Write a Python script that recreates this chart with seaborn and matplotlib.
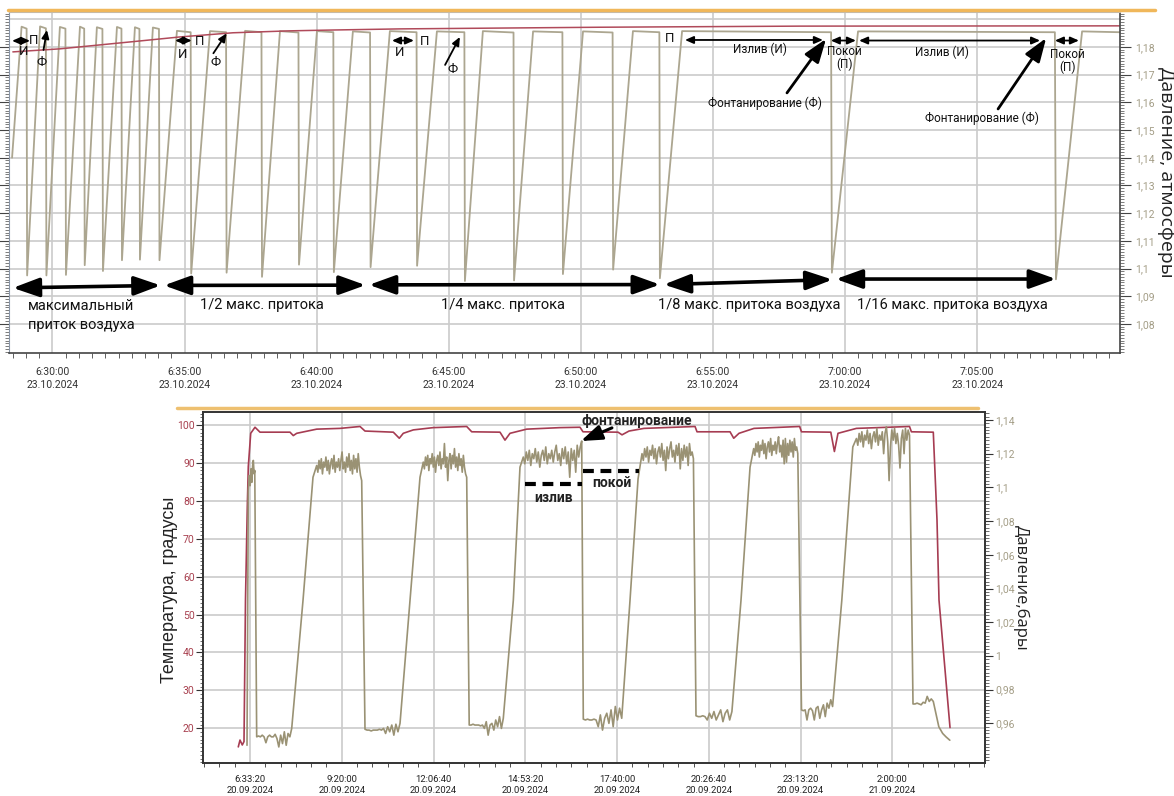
import numpy as np
import seaborn as sns
import matplotlib.pyplot as plt
from matplotlib.lines import Line2D
from matplotlib.ticker import MultipleLocator, FixedLocator

sns.set_style("white")
plt.rcParams['font.family'] = ['Roboto', 'DejaVu Sans']

# ---------------- верхний график: 23.10.2024, минуты от 6:00 ----------------
top_date = "23.10.2024"
top_tick_labels = ["6:30:00", "6:35:00", "6:40:00", "6:45:00",
                   "6:50:00", "6:55:00", "7:00:00", "7:05:00"]

start_t, start_p = 28.47, 1.140
# начало плато (конец подъёма) и конец плато (начало сброса)
plateau_a = [28.83, 29.53, 30.28, 31.04, 31.68, 32.44, 33.12, 33.80,
             34.71, 35.96, 37.29, 38.61, 40.01, 41.37,
             42.77, 44.55, 46.29, 48.19, 50.08, 51.97,
             53.83, 60.49, 68.97]
plateau_b = [29.02, 29.75, 30.49, 31.20, 31.89, 32.61, 33.29, 34.03,
             35.23, 36.57, 37.91, 39.31, 40.63, 42.02,
             43.78, 45.59, 47.45, 49.30, 51.20, 52.97,
             59.47, 67.94, 70.40]
plateau_pa = [1.1873, 1.1874, 1.1872, 1.1873, 1.1871, 1.1872, 1.1871, 1.1870,
              1.1858, 1.1857, 1.1858, 1.1857, 1.1857, 1.1856,
              1.1857, 1.1856, 1.1857, 1.1856, 1.1856, 1.1857,
              1.1857, 1.1856, 1.1856]
plateau_pb = [1.1866, 1.1867, 1.1866, 1.1866, 1.1865, 1.1866, 1.1865, 1.1865,
              1.1853, 1.1853, 1.1853, 1.1852, 1.1853, 1.1852,
              1.1853, 1.1853, 1.1852, 1.1853, 1.1852, 1.1853,
              1.1853, 1.1853, 1.1853]
min_t = [29.04, 29.77, 30.51, 31.22, 31.91, 32.63, 33.31, 34.05,
         35.25, 36.59, 37.93, 39.33, 40.65, 42.04,
         43.80, 45.61, 47.47, 49.32, 51.22, 52.99,
         59.50, 67.98]
min_p = [1.0975, 1.0975, 1.0977, 1.1012, 1.0991, 1.1030, 1.1032, 1.1030,
         1.0982, 1.0985, 1.0970, 1.1014, 1.0987, 1.1005,
         1.1010, 1.0955, 1.0957, 1.0980, 1.0996, 1.0965,
         1.0985, 1.0961]

red_top_t = [28.50, 30.28, 33.05, 34.83, 36.83, 38.99, 40.62, 43.15, 50.72, 58.29, 70.40]
red_top_p = [1.1782, 1.1793, 1.1819, 1.1836, 1.1851, 1.1858, 1.1861, 1.1865, 1.1871, 1.1875, 1.1876]

# ---------------- нижний график: часы от 20.09.2024 0:00 ----------------
bottom_tick_labels = ["6:33:20", "9:20:00", "12:06:40", "14:53:20",
                      "17:40:00", "20:26:40", "23:13:20", "2:00:00"]
bottom_tick_dates = ["20.09.2024", "20.09.2024", "20.09.2024", "20.09.2024",
                     "20.09.2024", "20.09.2024", "20.09.2024", "21.09.2024"]

# температура (красная линия)
temp_t = [6.201, 6.253, 6.322, 6.374, 6.419, 6.474, 6.504, 6.577, 6.707, 6.858,
          7.766, 7.866, 7.969, 8.574, 9.280, 9.885, 10.036, 10.893, 11.074, 11.195,
          11.498, 12.103, 13.114, 13.266, 14.122, 14.273, 14.425, 14.930, 15.938, 16.543,
          16.634, 17.693, 17.815, 18.027, 18.481, 20.025, 20.085, 21.084, 21.196, 21.356,
          21.810, 23.190, 23.247, 24.134, 24.243, 24.352, 24.909, 26.516, 26.573, 27.236,
          27.348, 27.409, 27.742]
temp_v = [15.1, 16.9, 15.6, 16.5, 53.9, 78.5, 89.0, 97.8, 99.4, 98.1,
          98.1, 97.2, 97.8, 98.9, 99.1, 99.6, 98.4, 98.1, 96.5, 97.8,
          98.7, 99.3, 99.6, 98.2, 98.1, 96.0, 97.8, 98.9, 99.3, 99.4,
          98.2, 98.1, 97.4, 98.4, 99.1, 99.6, 98.2, 98.2, 96.5, 97.8,
          99.1, 99.6, 98.2, 98.1, 93.0, 97.8, 99.1, 99.6, 98.2, 98.1,
          75.0, 53.8, 20.2]

# давление (оливковая линия): пуск
start_pt = [6.465, 6.504, 6.53, 6.56, 6.585, 6.61, 6.635, 6.656, 6.68, 6.70, 6.758]
start_pv = [0.947, 1.098, 1.107, 1.101, 1.111, 1.103, 1.113, 1.116, 1.108, 1.110, 0.952]

# плато покоя (низ) и излива (верх): границы по времени
low_span = [(6.758, 7.818), (10.036, 11.096), (13.19, 14.222), (16.643, 17.806),
            (20.054, 21.141), (23.247, 24.188), (26.622, 27.236)]
high_span = [(8.574, 9.936), (11.80, 13.114), (14.827, 16.595), (18.42, 19.976),
             (21.80, 23.135), (24.91, 26.516)]
# промежуточные точки подъёма
rise_t = [(8.160, 8.462), (11.398, 11.701), (14.525, 14.727), (18.057, 18.300),
          (21.416, 21.690), (24.467, 24.800)]
rise_v = [(1.033, 1.106), (1.033, 1.106), (1.033, 1.112), (1.033, 1.105),
          (1.033, 1.112), (1.033, 1.124)]

low1 = [0.952, 0.9525, 0.952, 0.953, 0.952, 0.9485, 0.952, 0.953, 0.952, 0.952,
        0.9535, 0.951, 0.946, 0.953, 0.948, 0.955, 0.947, 0.954, 0.952, 0.957]
low2 = [0.9565, 0.956, 0.956, 0.9555, 0.956, 0.956, 0.956, 0.9565, 0.956, 0.957,
        0.954, 0.958, 0.955, 0.959, 0.953, 0.9595, 0.955, 0.960]
low3 = [0.959, 0.959, 0.9595, 0.959, 0.959, 0.959, 0.9585, 0.959, 0.957, 0.961,
        0.953, 0.959, 0.960, 0.956, 0.962, 0.958, 0.964, 0.957, 0.963]
low4 = [0.9625, 0.962, 0.9625, 0.962, 0.962, 0.9625, 0.962, 0.958, 0.965, 0.956,
        0.963, 0.966, 0.960, 0.968, 0.958, 0.970, 0.962, 0.969, 0.963]
low5 = [0.9645, 0.964, 0.964, 0.9645, 0.964, 0.962, 0.966, 0.963, 0.967, 0.962,
        0.965, 0.968, 0.961, 0.966, 0.968, 0.962, 0.967]
low6 = [0.968, 0.9675, 0.968, 0.962, 0.968, 0.969, 0.9675, 0.962, 0.969, 0.970,
        0.963, 0.968, 0.971, 0.964, 0.972, 0.969, 0.974, 0.970]
low7 = [0.9715, 0.9715, 0.972, 0.9715, 0.971, 0.9725, 0.972, 0.976, 0.973, 0.9745, 0.973]

high1 = [1.113, 1.109, 1.116, 1.111, 1.117, 1.108, 1.115, 1.112, 1.118, 1.110,
         1.116, 1.108, 1.114, 1.117, 1.111, 1.119, 1.109, 1.115, 1.112, 1.117,
         1.110, 1.116, 1.121, 1.111, 1.115, 1.109, 1.118, 1.112, 1.120, 1.110,
         1.116, 1.108, 1.119, 1.111, 1.117, 1.109, 1.120, 1.112, 1.107, 1.104]
high2 = [1.115, 1.111, 1.118, 1.113, 1.119, 1.110, 1.117, 1.114, 1.120, 1.112,
         1.118, 1.109, 1.116, 1.119, 1.113, 1.121, 1.111, 1.117, 1.114, 1.126,
         1.112, 1.118, 1.104, 1.116, 1.120, 1.111, 1.119, 1.114, 1.123, 1.112,
         1.118, 1.110, 1.120, 1.113, 1.117, 1.109, 1.119, 1.112, 1.108, 1.106]
high3 = [1.118, 1.114, 1.121, 1.116, 1.122, 1.113, 1.120, 1.117, 1.123, 1.115,
         1.121, 1.112, 1.119, 1.122, 1.116, 1.124, 1.114, 1.120, 1.117, 1.122,
         1.115, 1.121, 1.125, 1.116, 1.120, 1.113, 1.123, 1.117, 1.124, 1.114,
         1.121, 1.106, 1.123, 1.116, 1.122, 1.109, 1.125, 1.118, 1.124, 1.1275]
high4 = [1.120, 1.116, 1.123, 1.118, 1.124, 1.115, 1.122, 1.119, 1.125, 1.117,
         1.123, 1.114, 1.121, 1.124, 1.118, 1.126, 1.116, 1.122, 1.110, 1.124,
         1.117, 1.123, 1.127, 1.118, 1.122, 1.115, 1.125, 1.119, 1.126, 1.111,
         1.123, 1.116, 1.125, 1.118, 1.124, 1.113, 1.126, 1.119, 1.121, 1.117]
high5 = [1.123, 1.119, 1.126, 1.121, 1.127, 1.118, 1.125, 1.122, 1.128, 1.120,
         1.126, 1.117, 1.124, 1.127, 1.121, 1.129, 1.119, 1.125, 1.122, 1.127,
         1.120, 1.126, 1.130, 1.121, 1.125, 1.118, 1.128, 1.114, 1.129, 1.115,
         1.126, 1.119, 1.128, 1.121, 1.127, 1.118, 1.129, 1.122, 1.124, 1.120]
high6 = [1.129, 1.125, 1.132, 1.127, 1.133, 1.124, 1.131, 1.128, 1.134, 1.126,
         1.132, 1.123, 1.130, 1.133, 1.127, 1.135, 1.125, 1.131, 1.128, 1.133,
         1.120, 1.132, 1.136, 1.127, 1.104, 1.124, 1.134, 1.128, 1.135, 1.126,
         1.132, 1.125, 1.1115, 1.129, 1.134, 1.120, 1.135, 1.128, 1.134, 1.131]
tail_t = [27.403, 27.52, 27.62, 27.736]
tail_v = [0.958, 0.954, 0.952, 0.950]

lows = [low1, low2, low3, low4, low5, low6, low7]
highs = [high1, high2, high3, high4, high5, high6]

# ---------------- сборка линий ----------------
top_t, top_p = [start_t], [start_p]
for i in range(len(plateau_a)):
    top_t += [plateau_a[i], plateau_b[i]]
    top_p += [plateau_pa[i], plateau_pb[i]]
    if i < len(min_t):
        top_t.append(min_t[i])
        top_p.append(min_p[i])

bot_t, bot_p = list(start_pt), list(start_pv)
for i, low in enumerate(lows):
    bot_t += list(np.linspace(low_span[i][0], low_span[i][1], len(low)))
    bot_p += low
    if i < len(highs):
        bot_t += list(rise_t[i])
        bot_p += list(rise_v[i])
        bot_t += list(np.linspace(high_span[i][0], high_span[i][1], len(highs[i])))
        bot_p += highs[i]
bot_t += tail_t
bot_p += tail_v

# ---------------- фигура ----------------
W, H = 1174, 796
fig = plt.figure(figsize=(W / 100, H / 100), dpi=100)


def box(x0, y0, x1, y1):
    return [x0 / W, 1 - y1 / H, (x1 - x0) / W, (y1 - y0) / H]


OLIVE = '#aca690'
OLIVE_D = '#9a9274'
RED = '#a63c52'
GRID = '#cbcbcb'
TAN = '#a39d86'

# ===== верхний =====
ax1 = fig.add_axes(box(9, 12, 1120, 353))
ax1.set_axisbelow(True)
sns.lineplot(x=top_t, y=top_p, ax=ax1, estimator=None, sort=False, color=OLIVE, lw=1.3)
sns.lineplot(x=red_top_t, y=red_top_p, ax=ax1, estimator=None, sort=False, color='#b04a5a', lw=1.1)
ax1.set_xlim(28.354, 70.405)
ax1.set_ylim(1.0695, 1.1926)

top_ticks = [(int(h) - 6) * 60 + int(m) + int(s) / 60
             for h, m, s in (lb.split(':') for lb in top_tick_labels)]
ax1.xaxis.set_major_locator(FixedLocator(top_ticks))
ax1.set_xticklabels([f"{lb}\n{top_date}" for lb in top_tick_labels],
                    fontsize=7.5, linespacing=1.45, color='#333333')
ax1.xaxis.set_minor_locator(MultipleLocator(0.5))
ax1.set_yticks(np.arange(1.08, 1.1801, 0.01))
ax1.set_yticklabels([f"{v:.2f}".rstrip('0').replace('.', ',') for v in np.arange(1.08, 1.1801, 0.01)],
                    fontsize=7.5, color=TAN)
ax1.yaxis.set_minor_locator(MultipleLocator(0.001))
ax1.tick_params(axis='y', which='both', left=True, right=True, labelleft=False, labelright=True)
ax1.tick_params(axis='y', which='major', length=8, pad=3, color='#444444')
ax1.tick_params(axis='y', which='minor', length=3, color='#666666')
ax1.tick_params(axis='x', which='major', length=7, pad=3, color='#444444')
ax1.tick_params(axis='x', which='minor', length=3.5, color='#444444', bottom=True)
ax1.grid(True, which='major', color=GRID, lw=1.2)
ax1.axhline(1.19, color=GRID, lw=1.2, zorder=0)
ax1.set_xlabel('')
ax1.set_ylabel('')
for s in ['bottom', 'right']:
    ax1.spines[s].set_color('#444444')
    ax1.spines[s].set_linewidth(1.2)
ax1.spines['left'].set_color('#8a96a8')
ax1.spines['top'].set_color('#bbbbbb')

arrow_big = dict(arrowstyle='<|-|>,head_length=1.0,head_width=0.36', lw=2.6, color='black',
                 shrinkA=0, shrinkB=0, mutation_scale=16)
sections = [((28.50, 1.0930), (34.09, 1.0939)), ((34.22, 1.0939), (41.85, 1.0940)),
            ((41.98, 1.0941), (52.99, 1.0942)), ((53.14, 1.0942), (59.52, 1.0960)),
            ((59.65, 1.0962), (67.98, 1.0962))]
for a, b in sections:
    ax1.annotate('', xy=b, xytext=a, arrowprops=arrow_big)

lbl_kw = dict(fontsize=10.5, color='#111111')
ax1.text(29.07, 1.0831, "максимальный\nприток воздуха", ha='left', va='center', linespacing=1.45, **lbl_kw)
ax1.text(37.94, 1.0869, "1/2 макс. притока", ha='center', va='center', **lbl_kw)
ax1.text(47.05, 1.0869, "1/4 макс. притока", ha='center', va='center', **lbl_kw)
ax1.text(56.36, 1.0869, "1/8 макс. притока воздуха", ha='center', va='center', **lbl_kw)
ax1.text(64.08, 1.0869, "1/16 макс. притока воздуха", ha='center', va='center', **lbl_kw)

arrow_small = dict(arrowstyle='<|-|>,head_length=0.5,head_width=0.22', lw=1.3, color='black',
                   shrinkA=0, shrinkB=0, mutation_scale=10)
arrow_one = dict(arrowstyle='-|>,head_length=0.5,head_width=0.22', lw=1.3, color='black',
                 shrinkA=0, shrinkB=0, mutation_scale=10)
arrow_phi = dict(arrowstyle='-|>,head_length=0.9,head_width=0.32', lw=2.0, color='black',
                 shrinkA=0, shrinkB=0, mutation_scale=16)
small_kw = dict(fontsize=9.5, color='#111111', ha='center', va='center')

# группа 1
ax1.annotate('', xy=(29.15, 1.1822), xytext=(28.47, 1.1822), arrowprops=arrow_small)
ax1.text(29.30, 1.1822, "П", **small_kw)
ax1.text(28.92, 1.1782, "И", **small_kw)
ax1.text(29.60, 1.1742, "Ф", **small_kw)
ax1.annotate('', xy=(29.79, 1.1861), xytext=(29.66, 1.1789), arrowprops=arrow_one)
# группа 2
ax1.annotate('', xy=(35.27, 1.1823), xytext=(34.64, 1.1823), arrowprops=arrow_small)
ax1.text(35.58, 1.1820, "П", **small_kw)
ax1.text(34.93, 1.1771, "И", **small_kw)
ax1.text(36.19, 1.1743, "Ф", **small_kw)
ax1.annotate('', xy=(36.59, 1.1849), xytext=(36.09, 1.1777), arrowprops=arrow_one)
# группа 3
ax1.annotate('', xy=(43.68, 1.1823), xytext=(42.85, 1.1823), arrowprops=arrow_small)
ax1.text(44.10, 1.1820, "П", **small_kw)
ax1.text(43.12, 1.1778, "И", **small_kw)
ax1.text(45.16, 1.1717, "Ф", **small_kw)
ax1.annotate('', xy=(45.42, 1.1836), xytext=(44.86, 1.1735), arrowprops=arrow_one)
# группа 4
ax1.text(53.37, 1.1829, "П", **small_kw)
ax1.annotate('', xy=(59.16, 1.1825), xytext=(53.94, 1.1825), arrowprops=arrow_small)
ax1.text(56.78, 1.1793, "Излив (И)", fontsize=8.5, color='#111111', ha='center', va='center')
ax1.annotate('', xy=(60.41, 1.1823), xytext=(59.46, 1.1823), arrowprops=arrow_small)
ax1.text(59.96, 1.1760, "Покой\n(П)", fontsize=8.5, color='#111111', ha='center', va='center', linespacing=1.0)
ax1.annotate('', xy=(67.38, 1.1823), xytext=(60.53, 1.1823), arrowprops=arrow_small)
ax1.text(63.67, 1.1782, "Излив (И)", fontsize=8.5, color='#111111', ha='center', va='center')
ax1.annotate('', xy=(68.85, 1.1823), xytext=(67.94, 1.1823), arrowprops=arrow_small)
ax1.text(68.43, 1.1750, "Покой\n(П)", fontsize=8.5, color='#111111', ha='center', va='center', linespacing=1.0)
ax1.text(56.97, 1.1598, "Фонтанирование (Ф)", fontsize=8.5, color='#111111', ha='center', va='center')
ax1.annotate('', xy=(59.28, 1.1829), xytext=(57.80, 1.1634), arrowprops=arrow_phi)
ax1.text(65.18, 1.1544, "Фонтанирование (Ф)", fontsize=8.5, color='#111111', ha='center', va='center')
ax1.annotate('', xy=(67.61, 1.1832), xytext=(65.79, 1.1576), arrowprops=arrow_phi)

fig.text(1166 / W, 1 - 172 / H, "Давление, атмосферы", rotation=270, fontsize=14,
         ha='center', va='center', color='#222222', family=['Open Sans', 'DejaVu Sans'])

# ===== нижний =====
ax2 = fig.add_axes(box(203, 411.7, 985, 763.3))
ax2.set_axisbelow(True)
ax2r = ax2.twinx()
sns.lineplot(x=temp_t, y=temp_v, ax=ax2, estimator=None, sort=False, color=RED, lw=1.2)
sns.lineplot(x=bot_t, y=bot_p, ax=ax2r, estimator=None, sort=False, color=OLIVE_D, lw=1.2)
ax2.set_xlim(5.133, 28.801)
ax2.set_ylim(10.77, 103.5)
ax2r.set_ylim(0.9363, 1.1449)

bt = []
for lb, d in zip(bottom_tick_labels, bottom_tick_dates):
    h, m, s = (int(x) for x in lb.split(':'))
    bt.append(h + m / 60 + s / 3600 + 24 * (int(d[:2]) - 20))
step = (bt[1] - bt[0]) / 6
ax2.xaxis.set_major_locator(FixedLocator(bt))
ax2.xaxis.set_minor_locator(FixedLocator([bt[0] + i * step for i in range(-3, 52)]))
ax2.set_xticklabels([f"{lb}\n{d}" for lb, d in zip(bottom_tick_labels, bottom_tick_dates)],
                    fontsize=6.8, linespacing=1.2, color='#222222')
ax2.set_yticks(np.arange(20, 101, 10))
ax2.set_yticklabels([str(v) for v in range(20, 101, 10)], fontsize=7.5, color='#a8404f')
ax2.yaxis.set_minor_locator(MultipleLocator(1))
rt = np.round(np.arange(0.96, 1.1401, 0.02), 2)
ax2r.set_yticks(rt)
ax2r.set_yticklabels([f"{v:.2f}".rstrip('0').rstrip('.').replace('.', ',') for v in rt],
                     fontsize=7.5, color=TAN)
ax2r.yaxis.set_minor_locator(MultipleLocator(0.002))
ax2.tick_params(axis='x', which='major', length=6, pad=2.5, color='#333333')
ax2.tick_params(axis='x', which='minor', length=3, color='#333333', bottom=True)
ax2.tick_params(axis='y', which='major', length=5, pad=1, color='#333333')
ax2.tick_params(axis='y', which='minor', length=2.5, color='#555555', left=True)
ax2r.tick_params(axis='y', which='major', length=6, pad=1.5, color='#333333')
ax2r.tick_params(axis='y', which='minor', length=3, color='#555555', right=True)
ax2.grid(True, which='major', color=GRID, lw=1.2)
for a in (ax2, ax2r):
    a.set_xlabel('')
    a.set_ylabel('')
    for s in a.spines.values():
        s.set_color('#333333')
        s.set_linewidth(1.2)

ax2r.annotate('', xy=(16.57, 1.1275), xytext=(17.51, 1.1353),
              arrowprops=dict(arrowstyle='-|>,head_length=0.9,head_width=0.32', lw=2.2,
                              color='black', shrinkA=0, shrinkB=0, mutation_scale=14))
ax2r.text(18.27, 1.1394, "фонтанирование", fontsize=10, fontweight='semibold',
          color='#222222', ha='center', va='center')
ax2r.plot([14.88, 16.595], [1.102, 1.102], color='black', lw=3, ls=(0, (2.6, 1.6)))
ax2r.text(15.73, 1.0935, "излив", fontsize=10, fontweight='semibold',
          color='#222222', ha='center', va='center')
ax2r.plot([16.643, 18.314], [1.1099, 1.1099], color='black', lw=3, ls=(0, (2.6, 1.6)))
ax2r.text(17.51, 1.1024, "покой", fontsize=10, fontweight='semibold',
          color='#222222', ha='center', va='center')

fig.text(170 / W, 1 - 590 / H, "Температура, градусы", rotation=90, fontsize=13,
         ha='center', va='center', color='#222222', family=['Liberation Sans', 'DejaVu Sans'])
fig.text(1021 / W, 1 - 588 / H, "Давление,бары", rotation=270, fontsize=12,
         ha='center', va='center', color='#222222', family=['Open Sans', 'DejaVu Sans'])

# оранжевые полосы над графиками
fig.add_artist(Line2D([8 / W, 1155 / W], [1 - 10 / H, 1 - 10 / H], color='#f0b75a', lw=2.5))
fig.add_artist(Line2D([177 / W, 978 / W], [1 - 407.5 / H, 1 - 407.5 / H], color='#eec070', lw=2.5))

fig.savefig('out.png', dpi=100)
